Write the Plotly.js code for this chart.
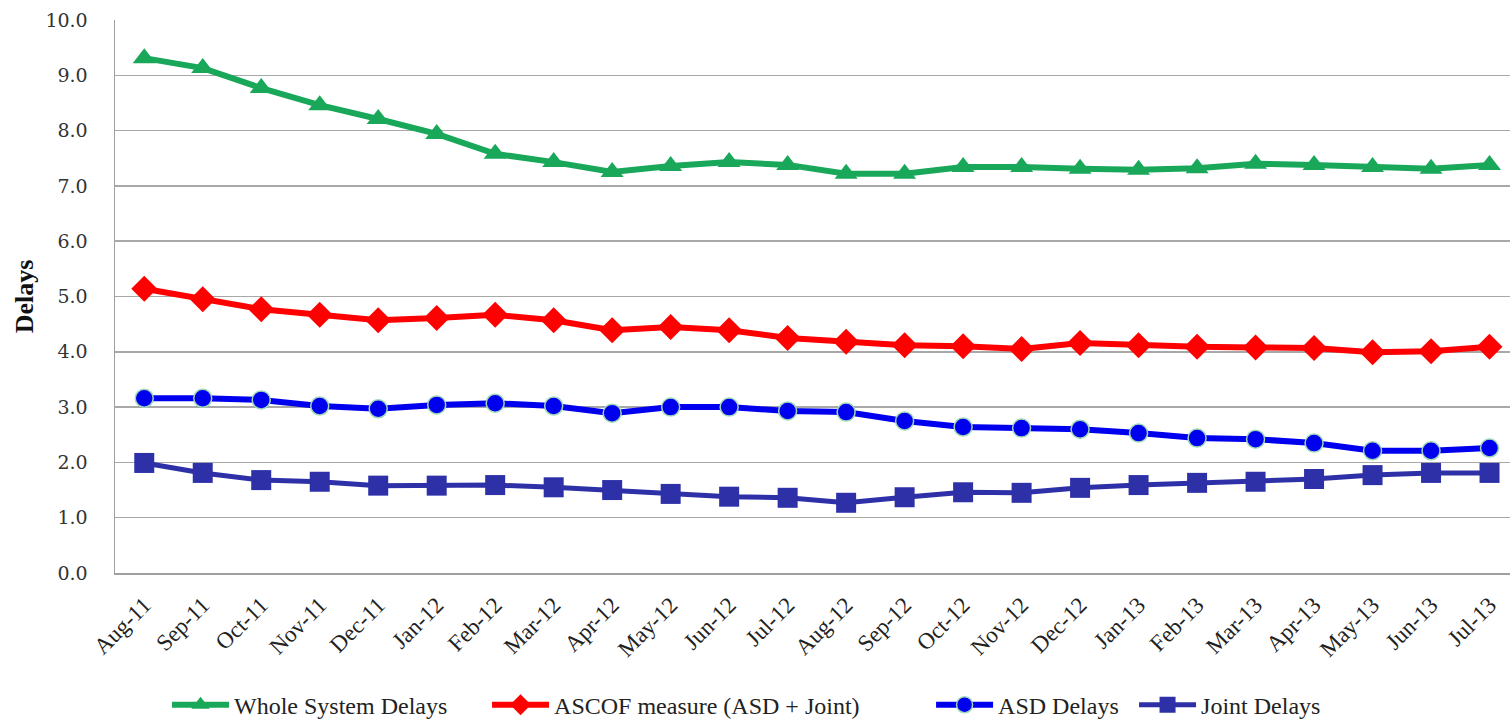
<!DOCTYPE html>
<html>
<head>
<meta charset="utf-8">
<script src="https://cdn.plot.ly/plotly-3.0.1.min.js"></script>
<style>html,body{margin:0;padding:0;background:#fff;}#chart{width:1510px;height:721px;}</style>
</head>
<body>
<div id="chart"></div>
<script>
const months = ["Aug-11","Sep-11","Oct-11","Nov-11","Dec-11","Jan-12","Feb-12","Mar-12","Apr-12","May-12","Jun-12","Jul-12","Aug-12","Sep-12","Oct-12","Nov-12","Dec-12","Jan-13","Feb-13","Mar-13","Apr-13","May-13","Jun-13","Jul-13"];
const wholeSystem = [9.31,9.13,8.77,8.46,8.21,7.94,7.58,7.43,7.25,7.36,7.43,7.38,7.22,7.22,7.34,7.34,7.31,7.29,7.32,7.40,7.38,7.34,7.31,7.38];
const ascof = [5.14,4.95,4.77,4.67,4.57,4.61,4.67,4.57,4.39,4.45,4.39,4.25,4.18,4.12,4.10,4.05,4.16,4.12,4.09,4.08,4.07,3.99,4.01,4.09];
const asd = [3.16,3.16,3.13,3.02,2.97,3.04,3.07,3.02,2.89,3.00,3.00,2.93,2.91,2.75,2.64,2.62,2.60,2.53,2.44,2.42,2.35,2.21,2.21,2.26];
const joint = [1.99,1.81,1.68,1.65,1.58,1.58,1.59,1.55,1.50,1.43,1.38,1.36,1.27,1.37,1.46,1.45,1.54,1.59,1.63,1.65,1.70,1.77,1.81,1.81];
const yTicks = [0,1,2,3,4,5,6,7,8,9,10];
const yTickText = ["0.0","1.0","2.0","3.0","4.0","5.0","6.0","7.0","8.0","9.0","10.0"];

const serif = "Liberation Serif, DejaVu Serif, serif";
const idx = months.map((m,i)=>i);

const traces = [
  {x: idx, y: wholeSystem, name: "Whole System Delays", mode: "lines+markers", legend: "legend",
   line: {color: "#19a85a", width: 6}, marker: {symbol: "triangle-up", size: 20, color: "#19a85a"}},
  {x: idx, y: ascof, name: "ASCOF measure (ASD + Joint)", mode: "lines+markers", legend: "legend2",
   line: {color: "#ff0000", width: 6}, marker: {symbol: "diamond", size: 20, color: "#ff0000"}},
  {x: idx, y: asd, name: "ASD Delays", mode: "lines+markers", legend: "legend3",
   line: {color: "#0000ee", width: 6}, marker: {symbol: "circle", size: 18, color: "#0000ee", line: {color: "#9ed8b8", width: 1.5}}},
  {x: idx, y: joint, name: "Joint Delays", mode: "lines+markers", legend: "legend4",
   line: {color: "#2e30a8", width: 5}, marker: {symbol: "square", size: 20, color: "#2e30a8"}}
];

function legendAt(x) {
  return {orientation: "h", x: x, xanchor: "left", yref: "container", y: 0.022, yanchor: "middle",
          font: {family: serif, size: 24, color: "#222"}, itemwidth: 57, bgcolor: "rgba(0,0,0,0)"};
}

const layout = {
  width: 1510, height: 721,
  margin: {l: 115, r: 0, t: 20, b: 148, autoexpand: false},
  paper_bgcolor: "#ffffff", plot_bgcolor: "#ffffff",
  showlegend: true,
  legend: legendAt(0.0373),
  legend2: legendAt(0.2667),
  legend3: legendAt(0.585),
  legend4: legendAt(0.7305),
  xaxis: {range: [-0.5, 23.35], tickmode: "array", tickvals: idx, ticktext: months,
          tickangle: -45, tickfont: {family: serif, size: 23, color: "#222"},
          ticklabelstandoff: 8, automargin: false,
          showgrid: false, zeroline: false, showline: true, linecolor: "#a0a0a0", linewidth: 1.5,
          ticks: "", fixedrange: true},
  yaxis: {range: [0, 10], tickmode: "array", tickvals: yTicks, ticktext: yTickText,
          tickfont: {family: "DejaVu Serif, serif", size: 19, color: "#333"},
          ticklabelstandoff: 22, automargin: false,
          showgrid: true, gridcolor: "#a8a8a8", gridwidth: 1.5, zeroline: false,
          showline: true, linecolor: "#a0a0a0", linewidth: 1.5, ticks: "", ticklen: 0,
          title: {text: "<b>Delays</b>", font: {family: serif, size: 26, color: "#111"}, standoff: 4}}
};

Plotly.newPlot("chart", traces, layout, {displayModeBar: false, staticPlot: true});
</script>
</body>
</html>
